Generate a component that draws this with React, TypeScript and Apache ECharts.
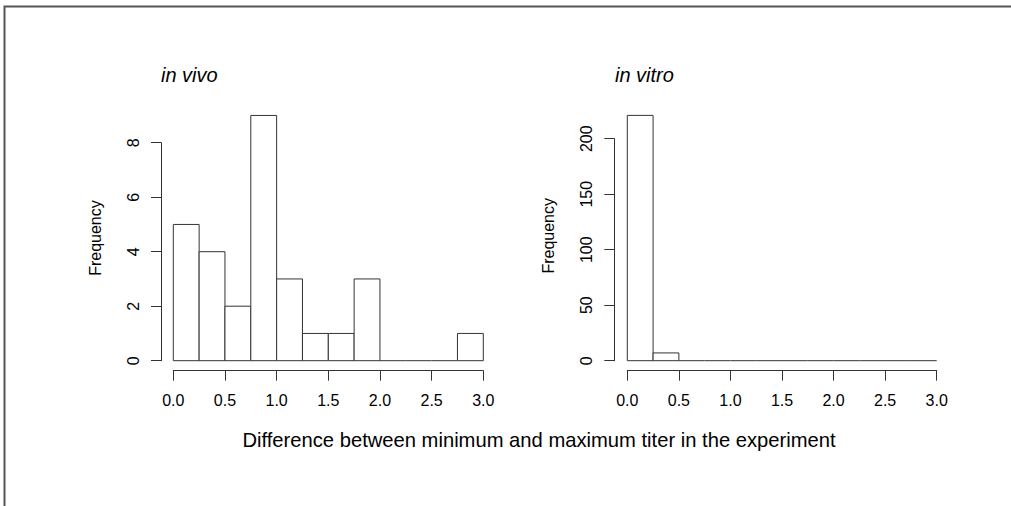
import React, { useEffect, useRef } from "react";
import * as echarts from "echarts";

const binEdges = [0, 0.25, 0.5, 0.75, 1, 1.25, 1.5, 1.75, 2, 2.25, 2.5, 2.75, 3];
const vivoCounts = [5, 4, 2, 9, 3, 1, 1, 3, 0, 0, 0, 1];
const vitroCounts = [221, 7, 0, 0, 0, 0, 0, 0, 0, 0, 0, 0];
const panelTitles = ["in vivo", "in vitro"];
const yLabel = "Frequency";
const xLabel = "Difference between minimum and maximum titer in the experiment";

const FONT = '"Liberation Sans", Arial, Helvetica, sans-serif';
const LINE = "#333";

function histData(counts: number[]) {
  return counts.map((c, i) => [binEdges[i], binEdges[i + 1], c]);
}

function renderBin(params: any, api: any) {
  const x0 = api.value(0);
  const x1 = api.value(1);
  const c = api.value(2);
  const p0 = api.coord([x0, c]);
  const p1 = api.coord([x1, 0]);
  if (c === 0) {
    return {
      type: "line",
      shape: { x1: p0[0], y1: p1[1], x2: p1[0], y2: p1[1] },
      style: { stroke: LINE, lineWidth: 1 },
    };
  }
  return {
    type: "rect",
    shape: { x: p0[0], y: p0[1], width: p1[0] - p0[0], height: p1[1] - p0[1] },
    style: { fill: "#fff", stroke: LINE, lineWidth: 1 },
  };
}

export default function App() {
  const ref = useRef<HTMLDivElement>(null);
  useEffect(() => {
    if (!ref.current) return;
    const chart = echarts.init(ref.current, undefined, { renderer: "svg" });
    const labelStyle = { fontFamily: FONT, fontSize: 16, color: "#000" };
    const shownX = (gridIndex: number) => ({
      type: "value",
      gridIndex,
      min: 0,
      max: 3,
      interval: 0.5,
      offset: 10,
      axisLine: { show: true, onZero: false, lineStyle: { color: LINE, width: 1 } },
      axisTick: { show: true, length: 10, inside: false, lineStyle: { color: LINE } },
      axisLabel: { ...labelStyle, margin: 22, interval: 0, hideOverlap: false, formatter: (v: number) => v.toFixed(1) },
      splitLine: { show: false },
    });
    const hiddenX = (gridIndex: number) => ({
      type: "value",
      gridIndex,
      min: 0,
      max: 3,
      show: false,
    });
    const nameY = (gridIndex: number, max: number, offset: number) => ({
      type: "value",
      gridIndex,
      min: 0,
      max,
      offset,
      axisLine: { show: false, onZero: false },
      axisTick: { show: false },
      axisLabel: { show: false },
      splitLine: { show: false },
      name: yLabel,
      nameLocation: "middle",
      nameGap: 58,
      nameTextStyle: labelStyle,
    });
    const shownY = (gridIndex: number, max: number, interval: number, offset: number) => ({
      type: "value",
      gridIndex,
      min: 0,
      max,
      interval,
      offset,
      axisLine: { show: true, onZero: false, lineStyle: { color: LINE, width: 1 } },
      axisTick: { show: true, length: 10, inside: false, lineStyle: { color: LINE } },
      axisLabel: { ...labelStyle, rotate: 90, margin: 20, interval: 0, hideOverlap: false },
      splitLine: { show: false },
    });
    const titleStyle = { fontFamily: FONT, fontStyle: "italic", fontWeight: "normal", fontSize: 20, color: "#000" };

    chart.setOption({
      animation: false,
      backgroundColor: "#fff",
      title: [
        { text: panelTitles[0], left: 161, top: 65, padding: 0, textStyle: titleStyle },
        { text: panelTitles[1], left: 615, top: 65, padding: 0, textStyle: titleStyle },
      ],
      grid: [
        { left: 173.3, top: 115.45, width: 310, height: 245.25 },
        { left: 173.3, top: 142.7, width: 310, height: 218 },
        { left: 627.3, top: 110.95, width: 309.4, height: 249.75 },
        { left: 627.3, top: 138.7, width: 309.4, height: 222 },
      ],
      xAxis: [shownX(0), hiddenX(1), shownX(2), hiddenX(3)],
      yAxis: [
        nameY(0, 9, 12.3),
        shownY(1, 8, 2, 12.3),
        nameY(2, 225, 13),
        shownY(3, 200, 50, 13),
      ],
      series: [
        {
          type: "custom",
          xAxisIndex: 0,
          yAxisIndex: 0,
          renderItem: renderBin,
          encode: { x: [0, 1], y: 2 },
          data: histData(vivoCounts),
        },
        {
          type: "custom",
          xAxisIndex: 2,
          yAxisIndex: 2,
          renderItem: renderBin,
          encode: { x: [0, 1], y: 2 },
          data: histData(vitroCounts),
        },
      ],
      graphic: [
        {
          type: "polyline",
          shape: { points: [[1011, 6.5], [4.5, 6.5], [4.5, 506]] },
          style: { stroke: "#555", lineWidth: 2, fill: null },
          silent: true,
        },
        {
          type: "text",
          x: 539,
          y: 440,
          style: {
            text: xLabel,
            fill: "#000",
            font: `20.2px ${FONT}`,
            textAlign: "center",
            textVerticalAlign: "middle",
          },
          silent: true,
        },
      ],
    });
    return () => chart.dispose();
  }, []);
  return (
    <div
      ref={ref}
      style={{ position: "fixed", left: 0, top: 0, width: 1011, height: 506, background: "#fff" }}
    />
  );
}
